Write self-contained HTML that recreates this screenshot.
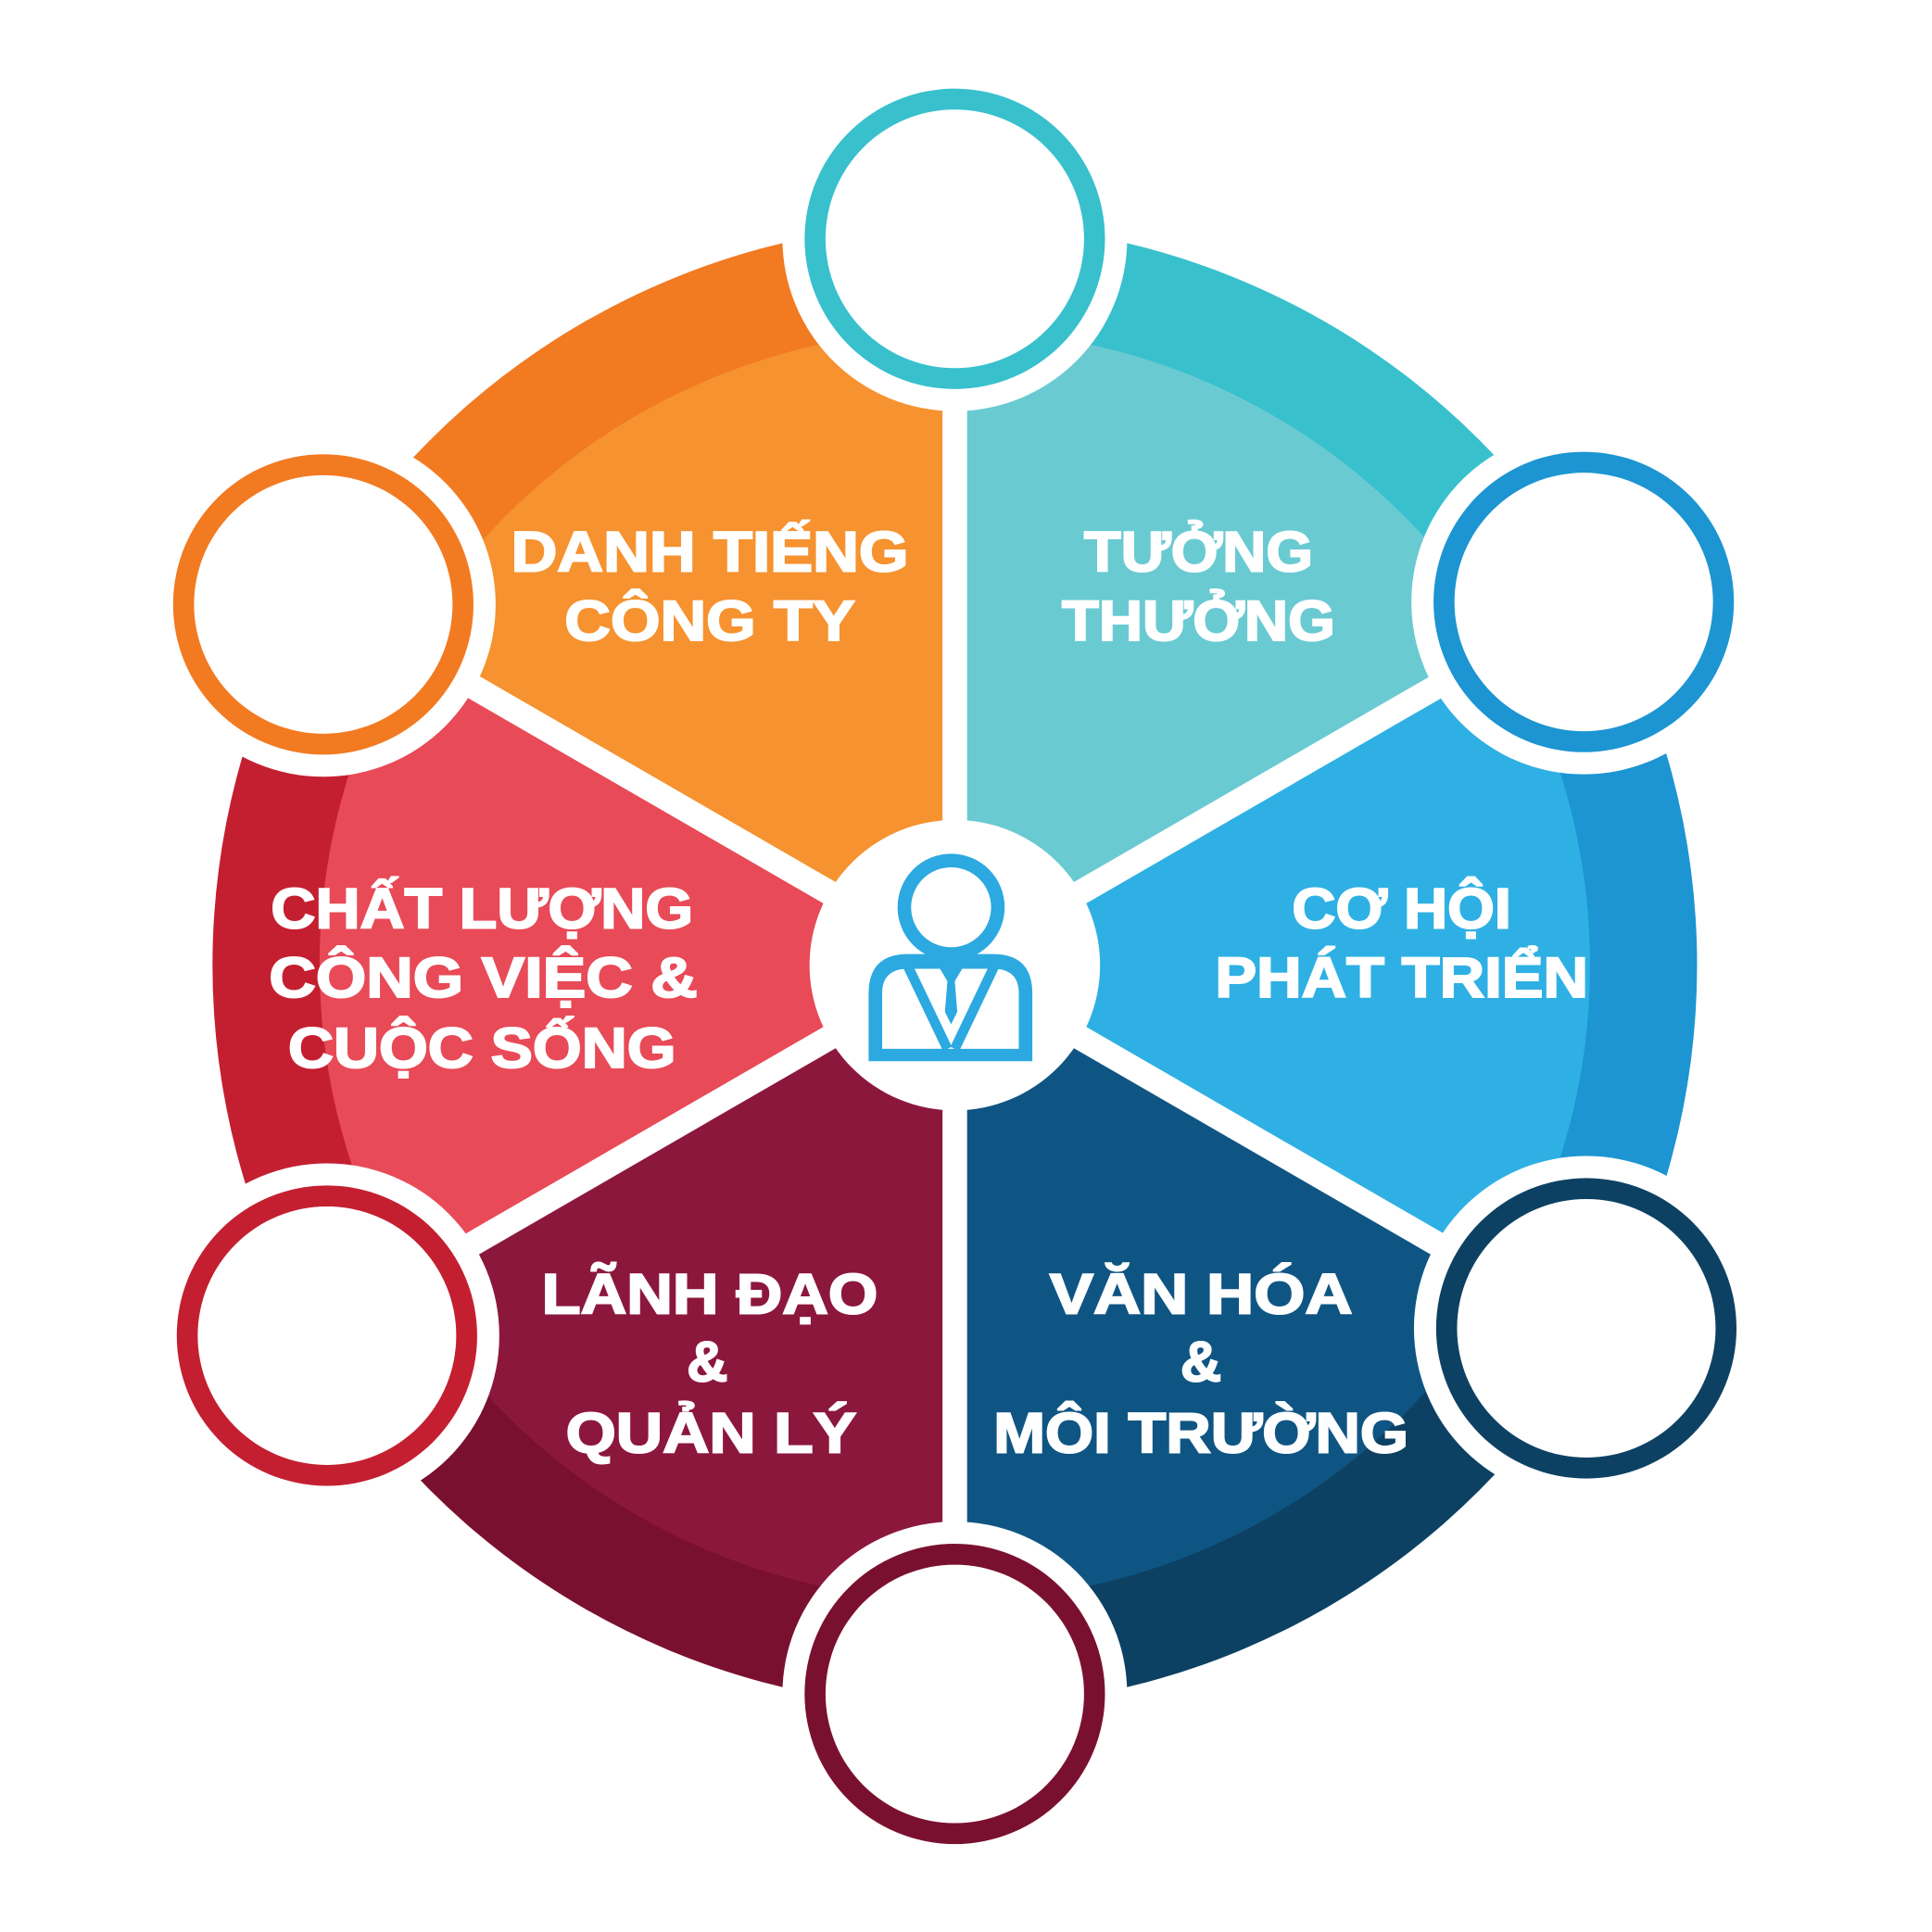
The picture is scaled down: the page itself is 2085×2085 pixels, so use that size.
<!DOCTYPE html>
<html><head><meta charset="utf-8"><style>html,body{margin:0;padding:0;background:#fff}svg{display:block}</style></head><body>
<svg width="2085" height="2085" viewBox="0 0 1560 1560" xmlns="http://www.w3.org/2000/svg">
<rect width="1560" height="1560" fill="#fff"/>
<g transform="translate(0.6,2) scale(0.994)">
<path d="M775,782 L1297.2,480.5 A603,603 0 0 0 775,179 Z" fill="#38C0CD"/>
<path d="M775,782 L775,179 A603,603 0 0 0 252.8,480.5 Z" fill="#F27A21"/>
<path d="M775,782 L252.8,480.5 A603,603 0 0 0 252.8,1083.5 Z" fill="#C41F30"/>
<path d="M775,782 L252.8,1083.5 A603,603 0 0 0 775,1385 Z" fill="#7A1030"/>
<path d="M775,782 L775,1385 A603,603 0 0 0 1297.2,1083.5 Z" fill="#0D4163"/>
<path d="M775,782 L1297.2,1083.5 A603,603 0 0 0 1297.2,480.5 Z" fill="#1C95D2"/>
<path d="M775,782 L1221.9,524 A516,516 0 0 0 775,266 Z" fill="#6ACAD2"/>
<path d="M775,782 L775,266 A516,516 0 0 0 328.1,524 Z" fill="#F6922F"/>
<path d="M775,782 L328.1,524 A516,516 0 0 0 328.1,1040 Z" fill="#E84A57"/>
<path d="M775,782 L328.1,1040 A516,516 0 0 0 775,1298 Z" fill="#8C173D"/>
<path d="M775,782 L775,1298 A516,516 0 0 0 1221.9,1040 Z" fill="#0F5583"/>
<path d="M775,782 L1221.9,1040 A516,516 0 0 0 1221.9,524 Z" fill="#2FB0E4"/>
<g stroke="#fff" stroke-width="20">
<line x1="775" y1="782" x2="775" y2="150"/>
<line x1="775" y1="782" x2="775" y2="1420"/>
<line x1="775" y1="782" x2="1320" y2="467"/>
<line x1="775" y1="782" x2="1320" y2="1097"/>
<line x1="775" y1="782" x2="230" y2="467"/>
<line x1="775" y1="782" x2="230" y2="1097"/>
</g>
<g>
<circle cx="775" cy="192" r="140" fill="#fff"/><circle cx="775" cy="192" r="122" fill="#38C0CD"/><circle cx="775" cy="192" r="105" fill="#fff"/>
<circle cx="1285.9" cy="487" r="140" fill="#fff"/><circle cx="1285.9" cy="487" r="122" fill="#1C95D2"/><circle cx="1285.9" cy="487" r="105" fill="#fff"/>
<circle cx="1288" cy="1077" r="140" fill="#fff"/><circle cx="1288" cy="1077" r="122" fill="#0D4163"/><circle cx="1288" cy="1077" r="105" fill="#fff"/>
<circle cx="775" cy="1374" r="140" fill="#fff"/><circle cx="775" cy="1374" r="122" fill="#7A1030"/><circle cx="775" cy="1374" r="105" fill="#fff"/>
<circle cx="265" cy="1083" r="140" fill="#fff"/><circle cx="265" cy="1083" r="122" fill="#C41F30"/><circle cx="265" cy="1083" r="105" fill="#fff"/>
<circle cx="262" cy="489" r="140" fill="#fff"/><circle cx="262" cy="489" r="122" fill="#F27A21"/><circle cx="262" cy="489" r="105" fill="#fff"/>
</g>
<circle cx="775" cy="782" r="118" fill="#fff"/>
<circle cx="772" cy="735" r="38" fill="#fff" stroke="#2BA9E0" stroke-width="11"/>
<path d="M705,860 L705,805 Q705,773 737,773 L806,773 Q838,773 838,805 L838,860 Z" fill="#2BA9E0"/>
<path d="M716,850 L716,805 Q716,785 737,785 L806,785 Q827,785 827,805 L827,850 Z" fill="#fff"/>
<g stroke="#2BA9E0" stroke-width="8" fill="none">
<line x1="737" y1="783" x2="769" y2="850"/><line x1="807" y1="783" x2="775" y2="850"/>
</g>
<path d="M763,785 L781,785 L775,795 L777,820 L772,830 L767,820 L769,795 Z" fill="#2BA9E0"/>
<g fill="#fff" stroke="#fff" stroke-width="1.5" font-family="'Liberation Sans', 'DejaVu Sans', sans-serif" font-weight="bold" font-size="46" text-anchor="middle">
<text x="576" y="462" textLength="323" lengthAdjust="spacingAndGlyphs">DANH TIẾNG</text>
<text x="576" y="518" textLength="236" lengthAdjust="spacingAndGlyphs">CÔNG TY</text>
<text x="973" y="462" textLength="186" lengthAdjust="spacingAndGlyphs">TƯỞNG</text>
<text x="973" y="518" textLength="222" lengthAdjust="spacingAndGlyphs">THƯỞNG</text>
<text x="1138" y="752" textLength="178" lengthAdjust="spacingAndGlyphs">CƠ HỘI</text>
<text x="1138" y="808" textLength="303" lengthAdjust="spacingAndGlyphs">PHÁT TRIỂN</text>
<text x="391" y="752" textLength="343" lengthAdjust="spacingAndGlyphs">CHẤT LƯỢNG</text>
<text x="392" y="808" textLength="348" lengthAdjust="spacingAndGlyphs">CÔNG VIỆC &amp;</text>
<text x="391" y="865" textLength="315" lengthAdjust="spacingAndGlyphs">CUỘC SỐNG</text>
<text x="576" y="1065" textLength="273" lengthAdjust="spacingAndGlyphs">LÃNH ĐẠO</text>
<text x="574" y="1120">&amp;</text>
<text x="577" y="1178" textLength="236" lengthAdjust="spacingAndGlyphs">QUẢN LÝ</text>
<text x="975" y="1065" textLength="246" lengthAdjust="spacingAndGlyphs">VĂN HÓA</text>
<text x="975" y="1120">&amp;</text>
<text x="975" y="1178" textLength="337" lengthAdjust="spacingAndGlyphs">MÔI TRƯỜNG</text>
</g>
</g>
</svg>
</body></html>
